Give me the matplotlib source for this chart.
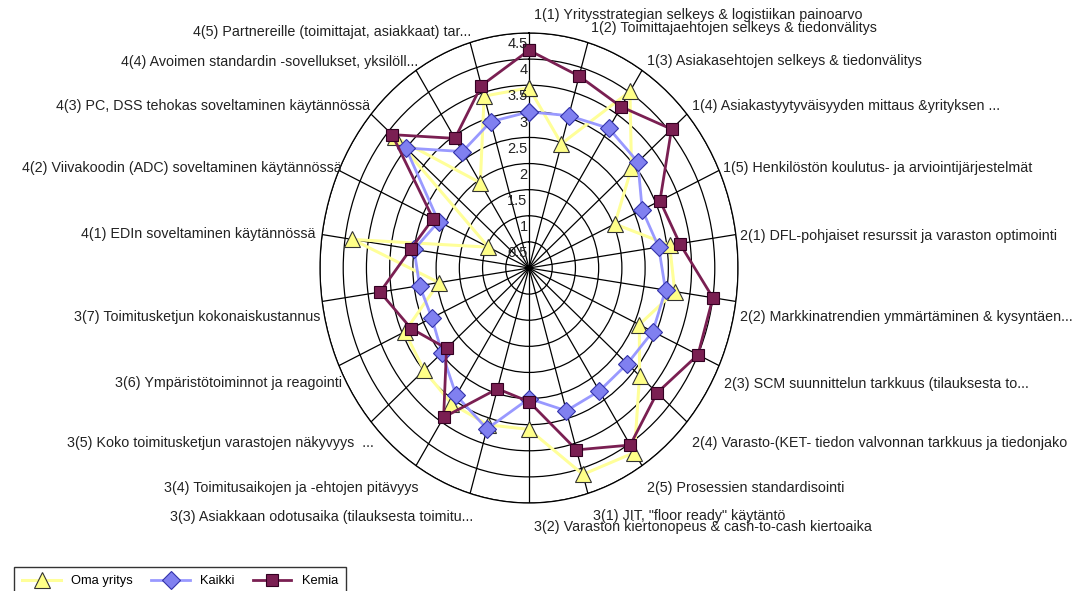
import numpy as np
import matplotlib
matplotlib.use("Agg")
import matplotlib.pyplot as plt

categories = [
    "1(1) Yritysstrategian selkeys & logistiikan painoarvo",
    "1(2) Toimittajaehtojen selkeys & tiedonvälitys",
    "1(3) Asiakasehtojen selkeys & tiedonvälitys",
    "1(4) Asiakastyytyväisyyden mittaus &yrityksen ...",
    "1(5) Henkilöstön koulutus- ja arviointijärjestelmät",
    "2(1) DFL-pohjaiset resurssit ja varaston optimointi",
    "2(2) Markkinatrendien ymmärtäminen & kysyntäen...",
    "2(3) SCM suunnittelun tarkkuus (tilauksesta to...",
    "2(4) Varasto-(KET- tiedon valvonnan tarkkuus ja tiedonjako",
    "2(5) Prosessien standardisointi",
    "3(1) JIT, \"floor ready\" käytäntö",
    "3(2) Varaston kiertonopeus & cash-to-cash kiertoaika",
    "3(3) Asiakkaan odotusaika (tilauksesta toimitu...",
    "3(4) Toimitusaikojen ja -ehtojen pitävyys",
    "3(5) Koko toimitusketjun varastojen näkyvyys  ...",
    "3(6) Ympäristötoiminnot ja reagointi",
    "3(7) Toimitusketjun kokonaiskustannus",
    "4(1) EDIn soveltaminen käytännössä",
    "4(2) Viivakoodin (ADC) soveltaminen käytännössä",
    "4(3) PC, DSS tehokas soveltaminen käytännössä",
    "4(4) Avoimen standardin -sovellukset, yksilöll...",
    "4(5) Partnereille (toimittajat, asiakkaat) tar...",
]

oma_yritys = [3.45, 2.48, 4.02, 2.92, 2.03, 3.06, 3.17, 2.61, 3.15, 4.20, 4.12,
              3.09, 3.13, 3.09, 2.99, 2.94, 1.96, 3.84, 0.96, 3.83, 1.94, 3.43]
kaikki = [2.99, 3.04, 3.18, 3.10, 2.68, 2.82, 2.97, 2.93, 2.80, 2.80, 2.85,
          2.50, 3.21, 2.90, 2.48, 2.30, 2.38, 2.50, 2.14, 3.51, 2.65, 2.92]
kemia = [4.17, 3.83, 3.67, 4.06, 3.10, 3.28, 4.00, 4.00, 3.65, 4.03, 3.63,
         2.56, 2.41, 3.40, 2.35, 2.79, 3.24, 2.57, 2.27, 3.90, 2.95, 3.64]

series_names = ["Oma yritys", "Kaikki", "Kemia"]
r_ticks = [0.5, 1.0, 1.5, 2.0, 2.5, 3.0, 3.5, 4.0, 4.5]
r_tick_labels = ["0.5", "1", "1.5", "2", "2.5", "3", "3.5", "4", "4.5"]

plt.rcParams["font.family"] = ["Liberation Sans", "DejaVu Sans"]

W, H = 1081, 591
fig = plt.figure(figsize=(W / 100, H / 100), dpi=100)
fig.patch.set_facecolor("white")

cx, cy, rx, ry = 529, 268, 209, 235
ax = fig.add_axes([(cx - rx) / W, (H - cy - ry) / H, 2 * rx / W, 2 * ry / H],
                  projection="polar")
ax.set_aspect("auto")
ax.set_theta_zero_location("N")
ax.set_theta_direction(-1)

N = len(categories)
theta = np.arange(N) * 2 * np.pi / N
ax.set_ylim(0, 4.5)
ax.set_xticks(theta)
ax.set_xticklabels([])
ax.set_yticks(r_ticks)
ax.set_yticklabels([])
ax.grid(True, color="black", lw=0.9)
ax.spines["polar"].set_color("black")
ax.spines["polar"].set_linewidth(0.9)
ax.set_facecolor("white")

def closed(v):
    return np.append(v, v[0])

th = closed(theta)
l1, = ax.plot(th, closed(oma_yritys), color="#FFFF99", lw=2.2, marker="^",
              ms=11.5, mfc="#FFFF88", mec="#333333", mew=0.8, clip_on=False, zorder=3)
l2, = ax.plot(th, closed(kaikki), color="#9999FF", lw=2.0, marker="D",
              ms=9, mfc="#8080F0", mec="#3333AA", mew=0.8, clip_on=False, zorder=4)
l3, = ax.plot(th, closed(kemia), color="#7A1F52", lw=2.0, marker="s",
              ms=9, mfc="#7A1F52", mec="#330022", mew=0.8, clip_on=False, zorder=5)

for v, lab in zip(r_ticks, r_tick_labels):
    ax.annotate(lab, xy=(0, v), xytext=(-1, -3), textcoords="offset points",
                ha="right", va="top", fontsize=10.5, color="#222222", zorder=6)

label_pos = [
    (534, 15, "left"), (591, 28, "left"), (647, 61, "left"), (692, 106, "left"),
    (723, 168, "left"), (740, 236, "left"), (740, 317, "left"), (724, 384, "left"),
    (692, 443, "left"), (647, 488, "left"), (593, 516, "left"), (534, 527, "left"),
    (473, 517, "right"), (419, 488, "right"), (374, 443, "right"), (342, 383, "right"),
    (320, 317, "right"), (316, 234, "right"), (342, 168, "right"), (370, 106, "right"),
    (418, 62, "right"), (471, 32, "right"),
]
for lab, (x, y, ha) in zip(categories, label_pos):
    fig.text(x / W, 1 - y / H, lab, ha=ha, va="center", fontsize=10.3, color="#222222")

leg = fig.legend([l1, l2, l3], series_names, loc="upper left",
                 bbox_to_anchor=(8 / W, 1 - 561 / H), ncol=3, fontsize=9.3,
                 frameon=True, fancybox=False, edgecolor="black",
                 handlelength=3.0, columnspacing=1.4, borderpad=0.6)
leg.get_frame().set_linewidth(1.0)

fig.savefig("out.png", dpi=100, facecolor="white")
